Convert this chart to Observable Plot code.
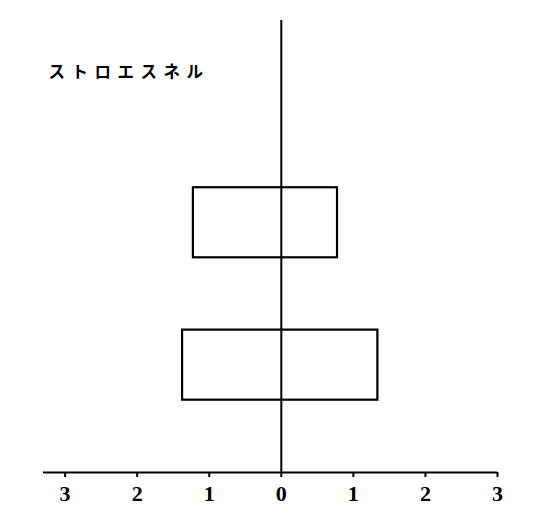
<!DOCTYPE html>
<html>
<head>
<meta charset="utf-8">
<script src="https://cdn.jsdelivr.net/npm/d3@7"></script>
<script src="https://cdn.jsdelivr.net/npm/@observablehq/plot@0.6"></script>
<style>
  html, body { margin: 0; padding: 0; background: #fff; }
  g[aria-label="text"] text { letter-spacing: 6.5px; }
</style>
</head>
<body>
<div id="chart"></div>
<script>
// Data
const groups = ["lower", "upper"];
const leftValues = [-1.37, -1.22];
const rightValues = [1.34, 0.78];
const bottomValues = [1.6, 4.75];
const topValues = [3.15, 6.3];
const xTicks = [-3, -2, -1, 0, 1, 2, 3];
const xDomain = [-3.3, 3.0];
const yDomain = [0, 10];
const labelText = "ストロエスネル";
const labelPos = {x: -3.23, y: 8.85};

const boxes = groups.map((g, i) => ({
  group: g, x1: leftValues[i], x2: rightValues[i], y1: bottomValues[i], y2: topValues[i]
}));

const chart = Plot.plot({
  width: 539,
  height: 515,
  marginLeft: 43,
  marginRight: 42,
  marginTop: 20,
  marginBottom: 43,
  style: {background: "#fff", color: "#000"},
  x: {domain: xDomain},
  y: {domain: yDomain, axis: null},
  marks: [
    Plot.rect(boxes, {x1: "x1", x2: "x2", y1: "y1", y2: "y2", fill: "none", stroke: "#000", strokeWidth: 2.2}),
    Plot.ruleX([0], {y1: yDomain[0], y2: yDomain[1], stroke: "#000", strokeWidth: 2}),
    Plot.ruleY([0], {x1: xDomain[0], x2: xDomain[1], stroke: "#000", strokeWidth: 2}),
    Plot.axisX({
      ticks: xTicks,
      tickFormat: d => Math.abs(d),
      tickSize: 5,
      tickPadding: 8,
      strokeWidth: 2,
      fontSize: 22,
      fontWeight: "bold",
      fontFamily: "Liberation Serif, DejaVu Serif, serif",
      label: null
    }),
    Plot.text([labelText], {
      x: () => labelPos.x, y: () => labelPos.y, text: d => d,
      textAnchor: "start",
      fontSize: 16.5,
      fontWeight: "bold",
      fontFamily: "Noto Sans CJK JP, sans-serif",
      fill: "#000"
    })
  ]
});
document.getElementById("chart").appendChild(chart);
</script>
</body>
</html>
